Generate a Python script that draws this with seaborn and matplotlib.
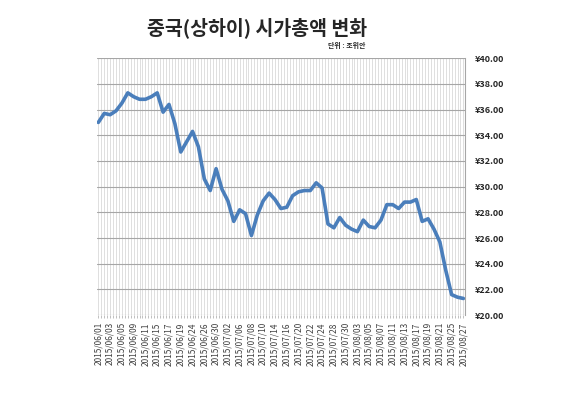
"""Shanghai market cap change, June-August 2015."""

import matplotlib
import matplotlib.pyplot as plt
import pandas as pd
import seaborn as sns
from matplotlib.ticker import FuncFormatter, MultipleLocator

matplotlib.use("Agg")

# Trading days (2015)
june_days = ["06/01", "06/02", "06/03", "06/04", "06/05", "06/08", "06/09", "06/10",
             "06/11", "06/12", "06/15", "06/16", "06/17", "06/18", "06/19", "06/23",
             "06/24", "06/25", "06/26", "06/29", "06/30"]
july_days = ["07/01", "07/02", "07/03", "07/06", "07/07", "07/08", "07/09", "07/10",
             "07/13", "07/14", "07/15", "07/16", "07/17", "07/20", "07/21", "07/22",
             "07/23", "07/24", "07/27", "07/28", "07/29", "07/30", "07/31"]
aug_days = ["08/03", "08/04", "08/05", "08/06", "08/07", "08/10", "08/11", "08/12",
            "08/13", "08/14", "08/17", "08/18", "08/19", "08/20", "08/21", "08/24",
            "08/25", "08/26", "08/27"]
dates = ["2015/" + d for d in june_days + july_days + aug_days]

# Market cap (trillion yuan)
market_cap = [35.0, 35.7, 35.6, 35.9, 36.5, 37.3, 37.0, 36.8, 36.8, 37.0,
              37.3, 35.8, 36.4, 34.9, 32.7, 33.5, 34.3, 33.1, 30.6, 29.7,
              31.4, 29.8, 28.9, 27.3, 28.2, 27.9, 26.2, 27.8, 28.9, 29.5,
              29.0, 28.3, 28.4, 29.3, 29.6, 29.7, 29.7, 30.3, 29.9, 27.1,
              26.8, 27.6, 27.0, 26.7, 26.5, 27.4, 26.9, 26.8, 27.4, 28.6,
              28.6, 28.3, 28.8, 28.8, 29.0, 27.3, 27.5, 26.7, 25.7, 23.5,
              21.6, 21.4, 21.3]

title = "중국(상하이) 시가총액 변화"
unit_note = "단위 : 조위안"

sns.set_style("white")
plt.rcParams["font.family"] = ["Noto Sans CJK KR", "DejaVu Sans"]

df = pd.DataFrame({"idx": range(len(dates)), "date": dates, "cap": market_cap})

fig = plt.figure(figsize=(5.8, 3.93), dpi=100)
ax = fig.add_axes([0.167, 0.198, 0.635, 0.654])

sns.lineplot(data=df, x="idx", y="cap", ax=ax, color="#4a7ebb", linewidth=2.6)

ax.set_xlim(-0.25, len(dates) - 0.7)
ax.set_ylim(20, 40)
ax.set_xlabel("")
ax.set_ylabel("")

# x axis: every trading day ticked, every other one labelled
ax.set_xticks(range(len(dates)))
ax.set_xticklabels([d if i % 2 == 0 else "" for i, d in enumerate(dates)])
ax.xaxis.set_minor_locator(MultipleLocator(0.5))
ax.tick_params(axis="x", which="both", labelrotation=90, labelsize=6,
               labelcolor="#404040", length=2, width=0.5, color="#a6a6a6",
               bottom=True, pad=3)
ax.grid(axis="x", which="both", color="#d9d9d9", linewidth=0.6)

# y axis on the right
ax.yaxis.tick_right()
ax.set_yticks(range(20, 41, 2))
ax.yaxis.set_major_formatter(FuncFormatter(lambda v, _: f"¥{v:.2f}"))
ax.tick_params(axis="y", labelsize=6.5, length=0, pad=7)
for lbl in ax.get_yticklabels():
    lbl.set_fontweight("bold")
ax.grid(axis="y", which="major", color="#a6a6a6", linewidth=0.8)

for side in ["left", "top", "bottom"]:
    ax.spines[side].set_visible(False)
ax.spines["right"].set_color("#a6a6a6")
ax.spines["right"].set_linewidth(0.8)
ax.set_axisbelow(True)

fig.text(0.443, 0.93, title, ha="center", va="center", fontsize=14, fontweight="bold")
fig.text(0.63, 0.885, unit_note, ha="right", va="center", fontsize=5, fontweight="bold")

fig.savefig("out.png", dpi=100)
plt.close(fig)
